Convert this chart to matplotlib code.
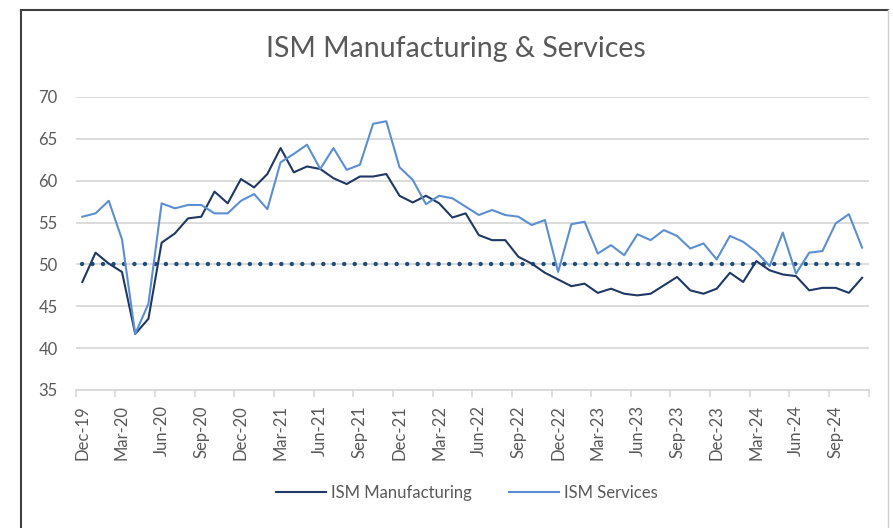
import matplotlib
matplotlib.use("Agg")
import matplotlib.pyplot as plt
from matplotlib.lines import Line2D

# monthly data, Dec-19 .. Nov-24
months = ["Dec-19", "Jan-20", "Feb-20", "Mar-20", "Apr-20", "May-20", "Jun-20", "Jul-20", "Aug-20", "Sep-20",
          "Oct-20", "Nov-20", "Dec-20", "Jan-21", "Feb-21", "Mar-21", "Apr-21", "May-21", "Jun-21", "Jul-21",
          "Aug-21", "Sep-21", "Oct-21", "Nov-21", "Dec-21", "Jan-22", "Feb-22", "Mar-22", "Apr-22", "May-22",
          "Jun-22", "Jul-22", "Aug-22", "Sep-22", "Oct-22", "Nov-22", "Dec-22", "Jan-23", "Feb-23", "Mar-23",
          "Apr-23", "May-23", "Jun-23", "Jul-23", "Aug-23", "Sep-23", "Oct-23", "Nov-23", "Dec-23", "Jan-24",
          "Feb-24", "Mar-24", "Apr-24", "May-24", "Jun-24", "Jul-24", "Aug-24", "Sep-24", "Oct-24", "Nov-24"]

ism_manufacturing = [47.9, 51.4, 50.1, 49.1, 41.7, 43.5, 52.6, 53.7, 55.5, 55.7,
                     58.7, 57.3, 60.2, 59.2, 60.8, 63.9, 61.0, 61.7, 61.4, 60.3,
                     59.6, 60.5, 60.5, 60.8, 58.2, 57.4, 58.2, 57.3, 55.6, 56.1,
                     53.5, 52.9, 52.9, 50.9, 50.1, 49.0, 48.2, 47.4, 47.7, 46.6,
                     47.1, 46.5, 46.3, 46.5, 47.5, 48.5, 46.9, 46.5, 47.1, 49.0,
                     47.9, 50.4, 49.3, 48.8, 48.6, 46.9, 47.2, 47.2, 46.6, 48.4]

ism_services = [55.7, 56.1, 57.6, 53.0, 41.7, 45.3, 57.3, 56.7, 57.1, 57.1,
                56.1, 56.1, 57.6, 58.4, 56.6, 62.2, 63.2, 64.3, 61.4, 63.9,
                61.3, 61.9, 66.8, 67.1, 61.6, 60.1, 57.2, 58.2, 57.9, 56.9,
                55.9, 56.5, 55.9, 55.7, 54.7, 55.3, 49.1, 54.8, 55.1, 51.3,
                52.3, 51.1, 53.6, 52.9, 54.1, 53.4, 51.9, 52.5, 50.6, 53.4,
                52.7, 51.5, 49.8, 53.8, 48.9, 51.4, 51.6, 54.9, 56.0, 52.0]

threshold = [50] * len(months)

plt.rcParams['font.family'] = ['Lato', 'DejaVu Sans']
gray = '#595959'

fig = plt.figure(figsize=(8.93, 5.28), dpi=100)
ax = fig.add_axes([0.0848, 0.2614, 0.888, 0.5549])

x = list(range(len(months)))
ax.plot(x, threshold, color='#1f4e79', lw=3.2, linestyle=(0, (0.01, 2.35)),
        dash_capstyle='round', zorder=2)
ax.plot(x, ism_manufacturing, color='#1f3864', lw=1.5, label='ISM Manufacturing', zorder=3)
ax.plot(x, ism_services, color='#5b8fd1', lw=1.5, label='ISM Services', zorder=3)

ax.set_xlim(-0.5, len(months) - 0.5)
ax.set_ylim(35, 70)
ax.set_yticks(range(35, 71, 5))
ax.yaxis.grid(True, color='#d9d9d9', lw=1.3)
ax.set_axisbelow(True)
ax.tick_params(axis='y', length=0, pad=13, labelsize=12, labelcolor=gray)

# ticks between categories, labels on every third month
ax.set_xticks([i - 0.5 for i in range(0, len(months) + 1, 3)])
ax.set_xticklabels([])
ax.tick_params(axis='x', which='major', length=5, width=1.2, color='#d9d9d9')
ax.set_xticks(x[::3], minor=True)
ax.set_xticklabels(months[::3], minor=True, rotation=90)
ax.tick_params(axis='x', which='minor', length=0, pad=11, labelsize=12, labelcolor=gray)

for s in ['top', 'right', 'left']:
    ax.spines[s].set_visible(False)
ax.spines['bottom'].set_color('#d9d9d9')
ax.spines['bottom'].set_linewidth(1.3)

fig.text(0.51, 0.908, 'ISM Manufacturing & Services', ha='center', va='center',
         fontsize=20.5, color=gray)

fig.legend(loc='center', bbox_to_anchor=(0.523, 0.066), ncol=2, frameon=False,
           fontsize=12, labelcolor=gray, handlelength=3.0, handletextpad=0.3,
           columnspacing=2.2)

# outer chart frame
W, H = 893, 528
fig.add_artist(Line2D([21 / W, 888 / W], [1 - 10 / H, 1 - 10 / H], color='#404040', lw=1.5))
fig.add_artist(Line2D([21 / W, 21 / W], [0, 1 - 10 / H], color='#404040', lw=1.5))
fig.add_artist(Line2D([888 / W, 888 / W], [0, 1 - 10 / H], color='#d0d0d0', lw=1.0))

fig.savefig('out.png', dpi=100)
